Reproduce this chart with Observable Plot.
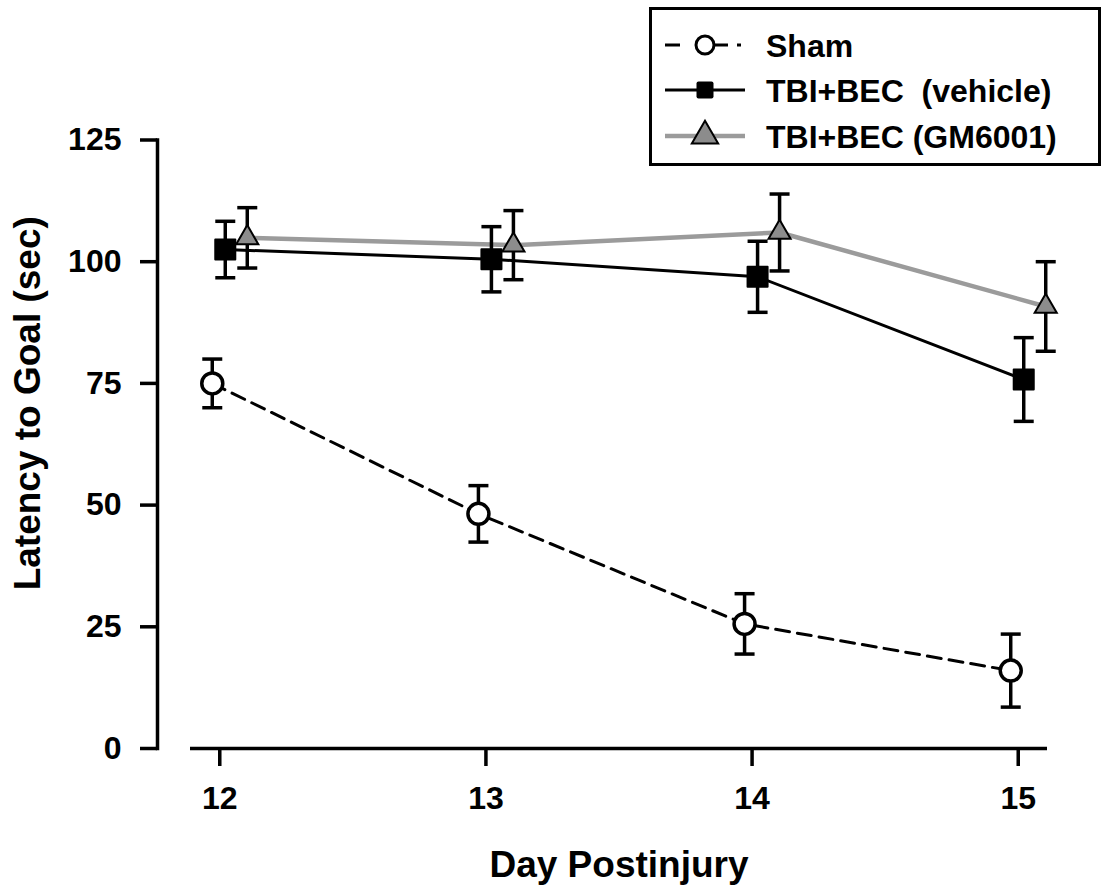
<!DOCTYPE html>
<html>
<head>
<meta charset="utf-8">
<script src="https://cdn.jsdelivr.net/npm/d3@7"></script>
<script src="https://cdn.jsdelivr.net/npm/@observablehq/plot@0.6"></script>
<style>
  html, body { margin: 0; padding: 0; background: white; }
  #wrap { position: relative; width: 1103px; height: 892px; font-family: "Liberation Sans", Arial, sans-serif; }
  #legend { position: absolute; left: 649px; top: 7px; width: 452px; height: 159px; box-sizing: border-box; border: 3px solid black; background: white; }
  #legend svg { position: absolute; left: 0; top: 0; }
</style>
</head>
<body>
<div id="wrap"><div id="chart"></div><div id="legend"></div></div>
<script>
// ---- data ----
const days = [12, 13, 14, 15];
const shamMean = [75.0, 48.2, 25.6, 16.0];
const shamSem = [5.0, 5.8, 6.2, 7.5];
const vehicleMean = [102.5, 100.5, 96.9, 75.8];
const vehicleSem = [5.8, 6.7, 7.3, 8.6];
const gmMean = [104.9, 103.4, 106.0, 90.8];
const gmSem = [6.2, 7.1, 7.9, 9.2];
const yTicks = [0, 25, 50, 75, 100, 125];
const groupNames = ["Sham", "TBI+BEC  (vehicle)", "TBI+BEC (GM6001)"];
const xLabel = "Day Postinjury";
const yLabel = "Latency to Goal (sec)";

const table = (means, sems) => days.map((d, i) => ({day: d, mean: means[i], lo: means[i] - sems[i], hi: means[i] + sems[i]}));
const sham = table(shamMean, shamSem);
const vehicle = table(vehicleMean, vehicleSem);
const gm = table(gmMean, gmSem);

const FONT = "'Liberation Sans', Arial, sans-serif";
const capSymbol = {draw(ctx, size) { const w = Math.sqrt(size / Math.PI); ctx.moveTo(-w, 0); ctx.lineTo(w, 0); }};

function errorMarks(data, dx) {
  return [
    Plot.ruleX(data, {x: "day", y1: "lo", y2: "hi", stroke: "black", strokeWidth: 3.5, dx}),
    Plot.dot(data, {x: "day", y: "lo", symbol: capSymbol, r: 10, fill: "none", stroke: "black", strokeWidth: 3.5, dx}),
    Plot.dot(data, {x: "day", y: "hi", symbol: capSymbol, r: 10, fill: "none", stroke: "black", strokeWidth: 3.5, dx})
  ];
}

const chart = Plot.plot({
  width: 1103,
  height: 892,
  marginLeft: 190,
  marginRight: 56,
  marginTop: 139.5,
  marginBottom: 144,
  x: {domain: [11.89, 15.11]},
  y: {domain: [0, 125]},
  style: {fontFamily: FONT, fontWeight: "bold", color: "black", background: "white"},
  marks: [
    Plot.frame({anchor: "left", dx: -33, stroke: "black", strokeWidth: 3.5}),
    Plot.ruleY([0], {stroke: "black", strokeWidth: 3.5}),
    Plot.axisY({ticks: yTicks, tickSize: 17, tickPadding: 19, dx: -33, fontSize: 32, fontWeight: "bold", strokeWidth: 3.5, label: null, tickFormat: d => String(d)}),
    Plot.axisX({ticks: days, tickSize: 18, tickPadding: 20, fontSize: 32, fontWeight: "bold", strokeWidth: 3.5, label: null, tickFormat: d => String(d)}),
    Plot.text([xLabel], {text: d => d, frameAnchor: "bottom", textAnchor: "middle", lineAnchor: "middle", dy: 117, fontSize: 37, fontWeight: "bold", fill: "black"}),
    Plot.text([yLabel], {text: d => d, frameAnchor: "left", textAnchor: "middle", lineAnchor: "middle", rotate: -90, dx: -162, dy: -41, fontSize: 37, fontWeight: "bold", fill: "black"}),
    // lines
    Plot.line(gm, {x: "day", y: "mean", stroke: "#9b9b9b", strokeWidth: 4.5, dx: 27.5}),
    Plot.line(vehicle, {x: "day", y: "mean", stroke: "black", strokeWidth: 3, dx: 5.5}),
    Plot.line(sham, {x: "day", y: "mean", stroke: "black", strokeWidth: 3, strokeDasharray: "14,8", dx: -7.5}),
    // error bars
    ...errorMarks(sham, -7.5),
    ...errorMarks(vehicle, 5.5),
    ...errorMarks(gm, 27.5),
    // markers
    Plot.dot(sham, {x: "day", y: "mean", r: 10.5, fill: "white", stroke: "black", strokeWidth: 3.5, dx: -7.5}),
    Plot.dot(vehicle, {x: "day", y: "mean", symbol: "square", r: 11.3, fill: "black", stroke: "black", strokeWidth: 2, strokeLinejoin: "round", dx: 5.5}),
    Plot.dot(gm, {x: "day", y: "mean", symbol: "triangle", r: 8.2, fill: "#8c8c8c", stroke: "black", strokeWidth: 2, dx: 27.5})
  ]
});
document.getElementById("chart").appendChild(chart);

// ---- legend ----
const lsvg = d3.select("#legend").append("svg").attr("width", 446).attr("height", 153);
const rowsY = [35, 80, 126];
const lx0 = 13, lx1 = 93, lxm = 53, tx = 114;
// Sham row: dash, circle, dash, dot
[[lx0, lx0 + 15], [lxm + 9, lxm + 23], [lxm + 32, lxm + 36]].forEach(([a, b]) => {
  lsvg.append("line").attr("x1", a).attr("x2", b).attr("y1", rowsY[0]).attr("y2", rowsY[0])
    .attr("stroke", "black").attr("stroke-width", 3);
});
lsvg.append("circle").attr("cx", lxm).attr("cy", rowsY[0]).attr("r", 9).attr("fill", "white").attr("stroke", "black").attr("stroke-width", 3);
// vehicle row
lsvg.append("line").attr("x1", lx0).attr("x2", lx1).attr("y1", rowsY[1]).attr("y2", rowsY[1]).attr("stroke", "black").attr("stroke-width", 3);
lsvg.append("rect").attr("x", lxm - 8.5).attr("y", rowsY[1] - 8.5).attr("width", 17).attr("height", 17).attr("rx", 2).attr("fill", "black");
// GM row
lsvg.append("line").attr("x1", lx0).attr("x2", lx1).attr("y1", rowsY[2]).attr("y2", rowsY[2]).attr("stroke", "#9b9b9b").attr("stroke-width", 4.5);
lsvg.append("path").attr("d", d3.symbol(d3.symbolTriangle, 300)()).attr("transform", `translate(${lxm},${rowsY[2]})`)
  .attr("fill", "#8c8c8c").attr("stroke", "black").attr("stroke-width", 2);
// labels
lsvg.selectAll("text.lab").data(groupNames).join("text")
  .attr("class", "lab")
  .attr("x", tx).attr("y", (d, i) => rowsY[i]).attr("dy", "0.36em")
  .attr("font-family", FONT).attr("font-weight", "bold").attr("font-size", 32)
  .attr("fill", "black").style("white-space", "pre")
  .text(d => d);
</script>
</body>
</html>
